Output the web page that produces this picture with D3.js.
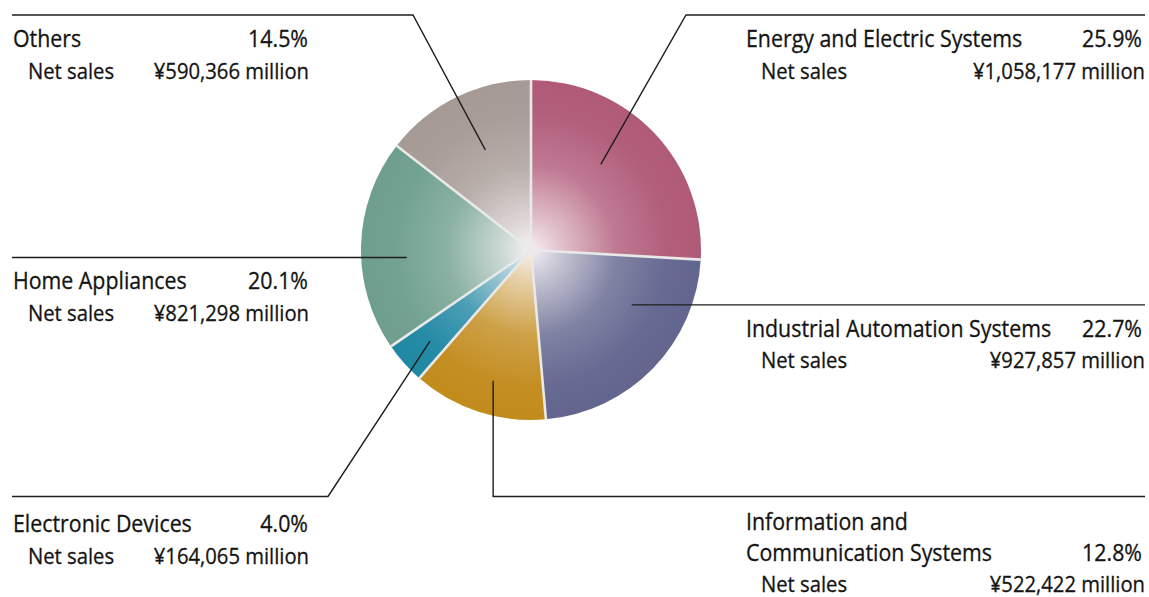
<!DOCTYPE html>
<html>
<head>
<meta charset="utf-8">
<script src="https://cdn.jsdelivr.net/npm/d3@7"></script>
<style>
  html, body { margin: 0; padding: 0; background: #ffffff; }
  svg { display: block; }
  text { font-family: "Open Sans", "Noto Sans", sans-serif; fill: #141414; stroke: #141414; stroke-width: 0.3px; }
</style>
</head>
<body>
<svg id="chart" width="1149" height="597"></svg>
<script>
// ---- data ----
const categories = [
  "Energy and Electric Systems",
  "Industrial Automation Systems",
  "Information and Communication Systems",
  "Electronic Devices",
  "Home Appliances",
  "Others"
];
const titleLines = [
  ["Energy and Electric Systems"],
  ["Industrial Automation Systems"],
  ["Information and", "Communication Systems"],
  ["Electronic Devices"],
  ["Home Appliances"],
  ["Others"]
];
const shares = [25.9, 22.7, 12.8, 4.0, 20.1, 14.5];
const netSales = [1058177, 927857, 522422, 164065, 821298, 590366];

// ---- styling / layout (not data) ----
const colors = ["#b05a78", "#62668f", "#c28b1c", "#1f88a3", "#6e9f8e", "#a69a95"];
const cx = 531, cy = 250, R = 170;
const leaders = [
  { frac: 0.42, rf: 0.65, side: "right", lineY: 15, elbowX: 686, dy: 32, gap: 31.5 },
  { frac: 0.31, rf: 0.675, side: "right", lineY: 305, elbowX: null, dy: 32, gap: 31.5 },
  { frac: 0.46, rf: 0.80, side: "right", lineY: 496.5, elbowX: 493.3, vertical: true, dy: 33, gap: 31 },
  { frac: 0.48, rf: 0.80, side: "left", lineY: 496.5, elbowX: 328, dy: 35.5, gap: 31.5 },
  { frac: 0.43, rf: 0.732, side: "left", lineY: 257, elbowX: null, dy: 32, gap: 31.5 },
  { frac: 0.53, rf: 0.647, side: "left", lineY: 15, elbowX: 413, dy: 32, gap: 31.5 }
];
const sideCfg = {
  left:  { lineEnd: 12, nameX: 13, pctX: 308, subX: 28, valX: 309 },
  right: { lineEnd: 1145, nameX: 746, pctX: 1142, subX: 761, valX: 1145 }
};
const titleSize = 24, titleScale = 0.89;
const subSize = 22.5, subScale = 0.9;

const svg = d3.select("#chart");
const defs = svg.append("defs");

const rows = categories.map((c, i) => ({ name: c, lines: titleLines[i], share: shares[i], sales: netSales[i], i }));

const pie = d3.pie().sort(null).value(d => d.share);
const arcs = pie(rows);
const arc = d3.arc().innerRadius(0).outerRadius(R);

colors.forEach((col, i) => {
  const g = defs.append("radialGradient")
    .attr("id", "grad" + i)
    .attr("gradientUnits", "userSpaceOnUse")
    .attr("cx", 0).attr("cy", 0).attr("r", R)
    .attr("fx", 0).attr("fy", 0);
  const mix = t => d3.interpolateRgb("#fbf7f8", col)(t);
  g.append("stop").attr("offset", 0).attr("stop-color", mix(0.05));
  g.append("stop").attr("offset", 0.18).attr("stop-color", mix(0.35));
  g.append("stop").attr("offset", 0.5).attr("stop-color", mix(0.8));
  g.append("stop").attr("offset", 0.8).attr("stop-color", mix(0.97));
  g.append("stop").attr("offset", 1).attr("stop-color", col);
});

const pieG = svg.append("g").attr("transform", `translate(${cx},${cy})`);
pieG.selectAll("path.slice")
  .data(arcs)
  .join("path")
  .attr("class", "slice")
  .attr("d", arc)
  .attr("fill", d => `url(#grad${d.data.i})`);

pieG.selectAll("path.sep")
  .data(arcs)
  .join("path")
  .attr("class", "sep")
  .attr("d", d => {
    const a = d.startAngle;
    return `M0,0L${R * Math.sin(a)},${-R * Math.cos(a)}`;
  })
  .attr("stroke", "#e9e9e9")
  .attr("stroke-width", 2.6)
  .attr("fill", "none");

// leader lines
const lineG = svg.append("g");
arcs.forEach((d, i) => {
  const L = leaders[i];
  const ang = d.startAngle + L.frac * (d.endAngle - d.startAngle);
  const r = L.rf * R;
  const ax = cx + r * Math.sin(ang), ay = cy - r * Math.cos(ang);
  const end = sideCfg[L.side].lineEnd;
  let pts;
  if (L.elbowX == null) pts = [[ax, ay], [end, ay]];
  else if (L.vertical) pts = [[ax, ay], [ax, L.lineY], [end, L.lineY]];
  else pts = [[ax, ay], [L.elbowX, L.lineY], [end, L.lineY]];
  L.lineYActual = L.elbowX == null ? ay : L.lineY;
  lineG.append("path")
    .attr("d", d3.line()(pts))
    .attr("fill", "none")
    .attr("stroke", "#1e1e1e")
    .attr("stroke-width", 1.4);
});

// labels
const fmt = d3.format(",");
const labelG = svg.append("g");
function label(x, y, txt, size, scale, anchor) {
  labelG.append("text")
    .attr("transform", `translate(${x},${y}) scale(${scale},1)`)
    .attr("text-anchor", anchor || "start")
    .attr("font-size", size)
    .text(txt);
}
rows.forEach((d, i) => {
  const L = leaders[i];
  const s = sideCfg[L.side];
  const y = L.lineYActual + L.dy;
  d.lines.forEach((ln, k) => label(s.nameX, y + k * L.gap, ln, titleSize, titleScale));
  const lastY = y + (d.lines.length - 1) * L.gap;
  label(s.pctX, lastY, d.share.toFixed(1) + "%", titleSize, titleScale, "end");
  label(s.subX, lastY + L.gap, "Net sales", subSize, subScale);
  label(s.valX, lastY + L.gap, "¥" + fmt(d.sales) + " million", subSize, subScale, "end");
});
</script>
</body>
</html>
